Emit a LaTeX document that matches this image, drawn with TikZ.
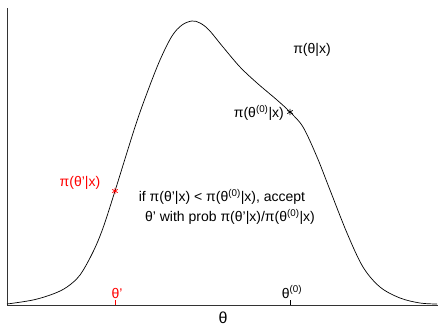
\documentclass[tikz,border=0pt]{standalone}
\usepackage{fontspec}
\setmainfont{Liberation Sans}
\usepackage{tikz}
\usetikzlibrary{
    plotmarks,
    positioning,
    calc
}
\definecolor{Pred}{RGB}{255, 0, 0}

\begin{document}
\begin{tikzpicture}[x=1pt, y=-1pt,
    lbl/.style={font=\fontsize{14}{16}\selectfont, inner sep=0pt},
    tick/.style={line width=0.8pt}]

\useasboundingbox (0,0) rectangle (438,327);

% Axes
\coordinate (org) at (7,305);
\coordinate (ytop) at (7,8);
\coordinate (xend) at (438,305);
\draw[line width=0.9pt, black!80] (ytop) -- (org) -- (xend);

% Posterior density (smooth through traced points)
\draw[line width=0.7pt] plot[smooth, tension=0.55] coordinates {
    (7,304) (33,300) (53,294) (67,287) (80,275) (93,252) (103,228)
    (115,191) (135,127) (147,93) (160,60) (172,36) (182,25) (192,21)
    (200,23) (209,30) (223,47) (240,67) (257,83) (277,100) (290,112)
    (303,127) (317,157) (330,190) (347,233) (363,267) (380,287) (400,298)
    (420,303) (437,304)};

% Points on the curve
\coordinate (pnew) at (115,191);
\coordinate (pold) at (290,112);
\path plot[mark=asterisk, mark size=3.2pt, mark options={Pred, line width=0.7pt}] coordinates {(pnew)};
\path plot[mark=asterisk, mark size=3.2pt, mark options={black, line width=0.7pt}] coordinates {(pold)};

% Ticks
\coordinate (tnew) at (115,305);
\coordinate (told) at (290,305);
\draw[tick, Pred] (tnew) -- ++(0,-5);
\draw[tick] (told) -- ++(0,-5);

% Labels
\node[lbl] (post) at (312,50) {π(θ|x)};
\node[lbl, anchor=east] (lold) at (284,113) {π(θ\textsuperscript{(0)}|x)};
\node[lbl, text=Pred] (lnew) at (80,183) {π(θ'|x)};
\node[lbl] (rule1) at (222,197) {if π(θ'|x) < π(θ\textsuperscript{(0)}|x), accept};
\node[lbl] (rule2) at (230,217) {θ' with prob π(θ'|x)/π(θ\textsuperscript{(0)}|x)};
\node[lbl, text=Pred] (xnew) at (117,293) {θ'};
\node[lbl] (xold) at (292,292) {θ\textsuperscript{(0)}};
\node[font=\fontsize{16}{18}\selectfont, inner sep=0pt] (xlab) at (223,318) {θ};

\end{tikzpicture}
\end{document}
